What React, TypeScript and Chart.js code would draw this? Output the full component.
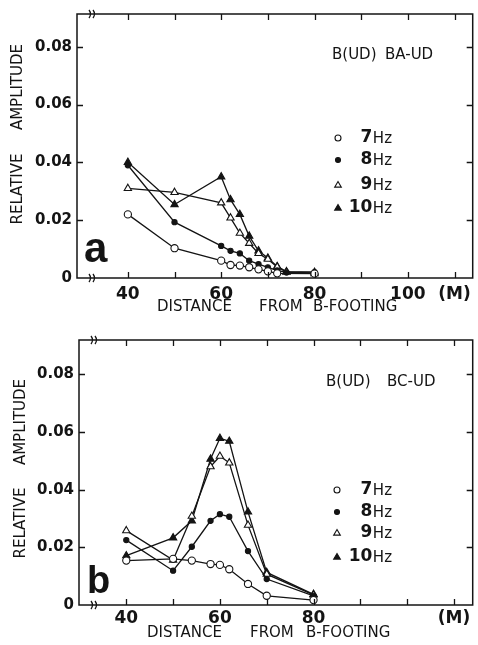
import React, { useEffect, useRef } from "react";
import { Chart, registerables } from "chart.js";
Chart.register(...registerables);

// ---------- data ----------
const X_TICKS = [40, 50, 60, 70, 80, 90, 100, 110];
const Y_TICKS = [0, 0.02, 0.04, 0.06, 0.08];
const Y_LABELS = ["0", "0.02", "0.04", "0.06", "0.08"];
const A_X_LABELS = ["40", "", "60", "", "80", "", "100", "(M)"];
const B_X_LABELS = ["40", "", "60", "", "80", "", "", "(M)"];
const SERIES_NUM = ["7", "8", "9", "10"];

// panel a : B(UD) BA-UD
const A_X_7 = [40, 50, 60, 62, 64, 66, 68, 70, 72, 80];
const A_Y_7 = [0.022, 0.0103, 0.006, 0.0045, 0.0043, 0.0037, 0.003, 0.0023, 0.0016, 0.0015];
const A_X_8 = [40, 50, 60, 62, 64, 66, 68, 70, 72, 74, 80];
const A_Y_8 = [0.039, 0.0193, 0.0111, 0.0094, 0.0085, 0.006, 0.0048, 0.0037, 0.0026, 0.0019, 0.002];
const A_X_9 = [40, 50, 60, 62, 64, 66, 68, 70, 72, 74, 80];
const A_Y_9 = [0.031, 0.0296, 0.026, 0.0208, 0.0155, 0.012, 0.0085, 0.0065, 0.0038, 0.002, 0.0015];
const A_X_10 = [40, 50, 60, 62, 64, 66, 68, 70, 72, 74, 80];
const A_Y_10 = [0.04, 0.0254, 0.035, 0.0271, 0.022, 0.0145, 0.0094, 0.0069, 0.004, 0.0022, 0.002];

// panel b : B(UD) BC-UD
const B_X_ALL = [40, 50, 54, 58, 60, 62, 66, 70, 80];
const B_Y_7 = [0.0154, 0.016, 0.0154, 0.0142, 0.0139, 0.0124, 0.0073, 0.0032, 0.0017];
const B_Y_8 = [0.0225, 0.0119, 0.0202, 0.0292, 0.0315, 0.0306, 0.0187, 0.009, 0.0032];
const B_Y_9 = [0.0258, 0.0156, 0.0308, 0.048, 0.0516, 0.0493, 0.0277, 0.0107, 0.0035];
const B_Y_10 = [0.0171, 0.0233, 0.0292, 0.0506, 0.0578, 0.0568, 0.0323, 0.0113, 0.0037];

const W = 478;
const INK = "#141414";
const MARKERS = [
  { style: "circle", fill: "#ffffff", r: 3.6 },
  { style: "circle", fill: INK, r: 2.6 },
  { style: "triangle", fill: "#ffffff", r: 4.2 },
  { style: "triangle", fill: INK, r: 4.2 },
];

type PanelCfg = {
  top: number;
  height: number;
  area: { left: number; top: number; right: number; bottom: number };
  xMin: number;
  xMax: number;
  yMax: number;
  xPad: number;
  xLabels: string[];
  series: { x: number[]; y: number[] }[];
  letter: string;
  letterFont: string;
  letterPos: [number, number];
  titleWords: [string, number][];
  titleY: number;
  legendYs: number[];
  legendMarkerX: number;
  legendRight: number;
  yTitle: { x: number; words: [string, number][] };
  xTitle: { y: number; words: [string, number][] };
};

const zip = (xs: number[], ys: number[]) => xs.map((x, i) => ({ x, y: ys[i] }));

function drawMarker(ctx: CanvasRenderingContext2D, i: number, x: number, y: number, r: number) {
  const m = MARKERS[i];
  ctx.beginPath();
  if (m.style === "circle") {
    ctx.arc(x, y, r, 0, Math.PI * 2);
  } else {
    ctx.moveTo(x, y - r);
    ctx.lineTo(x + r * 0.95, y + r * 0.6);
    ctx.lineTo(x - r * 0.95, y + r * 0.6);
    ctx.closePath();
  }
  ctx.fillStyle = m.fill;
  ctx.fill();
  ctx.lineWidth = 1.1;
  ctx.strokeStyle = INK;
  ctx.stroke();
}

function makeDecor(cfg: PanelCfg) {
  return {
    id: "decor",
    afterDraw(chart: any) {
      const ctx: CanvasRenderingContext2D = chart.ctx;
      const { left, top, right, bottom } = chart.chartArea;
      const xs = chart.scales.x;
      const ys = chart.scales.y;
      const off = cfg.top;
      ctx.save();
      ctx.strokeStyle = INK;
      ctx.lineWidth = 1.5;
      ctx.strokeRect(left, top, right - left, bottom - top);
      // inward ticks
      ctx.lineWidth = 1.3;
      ctx.beginPath();
      X_TICKS.forEach((v) => {
        const px = Math.round(xs.getPixelForValue(v)) + 0.5;
        ctx.moveTo(px, bottom);
        ctx.lineTo(px, bottom - 6);
        ctx.moveTo(px, top);
        ctx.lineTo(px, top + 6);
      });
      Y_TICKS.forEach((v) => {
        if (v === 0) return;
        const py = Math.round(ys.getPixelForValue(v)) + 0.5;
        ctx.moveTo(left, py);
        ctx.lineTo(left + 6, py);
        ctx.moveTo(right, py);
        ctx.lineTo(right - 6, py);
      });
      ctx.stroke();
      // axis breaks
      [bottom, top].forEach((yy) => {
        [left + 13, left + 17].forEach((bx) => {
          ctx.beginPath();
          ctx.moveTo(bx - 1, yy - 4);
          ctx.quadraticCurveTo(bx + 2, yy, bx - 1, yy + 4);
          ctx.stroke();
        });
      });
      ctx.fillStyle = INK;
      // big letter
      ctx.font = cfg.letterFont;
      ctx.textAlign = "left";
      ctx.textBaseline = "alphabetic";
      ctx.fillText(cfg.letter, cfg.letterPos[0], cfg.letterPos[1] - off);
      // title
      ctx.font = '15px "DejaVu Sans"';
      ctx.textBaseline = "middle";
      cfg.titleWords.forEach(([t, x]) => ctx.fillText(t, x, cfg.titleY - off));
      // legend
      cfg.legendYs.forEach((ly, i) => {
        const y = ly - off;
        drawMarker(ctx, i, cfg.legendMarkerX, y, i < 2 ? (i === 0 ? 3 : 2.5) : 3.5);
        ctx.fillStyle = INK;
        ctx.font = '15px "DejaVu Sans"';
        const hzW = ctx.measureText("Hz").width;
        ctx.textAlign = "left";
        ctx.fillText("Hz", cfg.legendRight - hzW, y + 1);
        ctx.font = 'bold 17px "DejaVu Sans"';
        ctx.textAlign = "right";
        ctx.fillText(SERIES_NUM[i], cfg.legendRight - hzW - 0.5, y);
      });
      // y title
      ctx.font = '15px "DejaVu Sans"';
      ctx.textAlign = "center";
      cfg.yTitle.words.forEach(([t, cy]) => {
        ctx.save();
        ctx.translate(cfg.yTitle.x, cy - off);
        ctx.rotate(-Math.PI / 2);
        ctx.fillText(t, 0, 0);
        ctx.restore();
      });
      // x title
      ctx.textAlign = "left";
      cfg.xTitle.words.forEach(([t, x]) => ctx.fillText(t, x, cfg.xTitle.y - off));
      ctx.restore();
    },
  };
}

function Panel({ cfg }: { cfg: PanelCfg }) {
  const ref = useRef<HTMLCanvasElement>(null);
  useEffect(() => {
    if (!ref.current) return;
    const chart = new Chart(ref.current, {
      type: "scatter",
      data: {
        datasets: cfg.series.map((s, i) => ({
          label: SERIES_NUM[i] + "Hz",
          data: zip(s.x, s.y),
          showLine: true,
          borderColor: INK,
          borderWidth: 1.3,
          pointStyle: MARKERS[i].style as any,
          pointRadius: MARKERS[i].r,
          pointBackgroundColor: MARKERS[i].fill,
          pointBorderColor: INK,
          pointBorderWidth: 1.1,
          tension: 0,
        })),
      },
      options: {
        responsive: false,
        animation: false,
        devicePixelRatio: 1,
        layout: {
          padding: { left: 0, top: cfg.area.top, right: W - cfg.area.right, bottom: 0 },
        },
        plugins: { legend: { display: false }, tooltip: { enabled: false } },
        scales: {
          x: {
            type: "linear",
            min: cfg.xMin,
            max: cfg.xMax,
            afterBuildTicks: (s: any) => {
              s.ticks = X_TICKS.map((v) => ({ value: v }));
            },
            afterFit: (s: any) => {
              s.height = cfg.height - cfg.area.bottom;
            },
            ticks: {
              autoSkip: false,
              maxRotation: 0,
              padding: cfg.xPad,
              color: INK,
              font: { family: "DejaVu Sans", weight: "bold", size: 17 },
              callback: (_v: any, i: number) => cfg.xLabels[i],
            },
            grid: { display: false, drawTicks: false },
            border: { display: false },
          },
          y: {
            type: "linear",
            min: 0,
            max: cfg.yMax,
            afterBuildTicks: (s: any) => {
              s.ticks = Y_TICKS.map((v) => ({ value: v }));
            },
            afterFit: (s: any) => {
              s.width = cfg.area.left;
            },
            ticks: {
              padding: 5,
              color: INK,
              font: { family: "DejaVu Sans", weight: "bold", size: 15 },
              callback: (_v: any, i: number) => Y_LABELS[i],
            },
            grid: { display: false, drawTicks: false },
            border: { display: false },
          },
        },
      } as any,
      plugins: [makeDecor(cfg)],
    });
    return () => chart.destroy();
  }, [cfg]);
  return (
    <div style={{ position: "absolute", left: 0, top: cfg.top, width: W, height: cfg.height }}>
      <canvas ref={ref} width={W} height={cfg.height} style={{ display: "block" }} />
    </div>
  );
}

const PANEL_A: PanelCfg = {
  top: 0,
  height: 322,
  area: { left: 77, top: 11, right: 475, bottom: 278 },
  xMin: 29.1,
  xMax: 113.9,
  yMax: 0.0913,
  xPad: 6,
  xLabels: A_X_LABELS,
  series: [
    { x: A_X_7, y: A_Y_7 },
    { x: A_X_8, y: A_Y_8 },
    { x: A_X_9, y: A_Y_9 },
    { x: A_X_10, y: A_Y_10 },
  ],
  letter: "a",
  letterFont: 'bold 42px "Liberation Sans"',
  letterPos: [84, 262],
  titleWords: [["B(UD)", 332], ["BA-UD", 385]],
  titleY: 55,
  legendYs: [138, 160, 185, 208],
  legendMarkerX: 338,
  legendRight: 392,
  yTitle: { x: 18, words: [["RELATIVE", 189], ["AMPLITUDE", 87]] },
  xTitle: { y: 307, words: [["DISTANCE", 157], ["FROM", 259], ["B-FOOTING", 313]] },
};

const PANEL_B: PanelCfg = {
  top: 322,
  height: 323,
  area: { left: 79, top: 18, right: 475, bottom: 283 },
  xMin: 29.9,
  xMax: 114,
  yMax: 0.0919,
  xPad: 3,
  xLabels: B_X_LABELS,
  series: [
    { x: B_X_ALL, y: B_Y_7 },
    { x: B_X_ALL, y: B_Y_8 },
    { x: B_X_ALL, y: B_Y_9 },
    { x: B_X_ALL, y: B_Y_10 },
  ],
  letter: "b",
  letterFont: 'bold 38px "Liberation Sans"',
  letterPos: [87, 593],
  titleWords: [["B(UD)", 326], ["BC-UD", 387]],
  titleY: 382,
  legendYs: [490, 512, 533, 557],
  legendMarkerX: 337,
  legendRight: 392,
  yTitle: { x: 21, words: [["RELATIVE", 523], ["AMPLITUDE", 422]] },
  xTitle: { y: 633, words: [["DISTANCE", 147], ["FROM", 250], ["B-FOOTING", 306]] },
};

export default function App() {
  return (
    <div style={{ position: "absolute", left: 0, top: 0, width: W, height: 645, background: "#fff" }}>
      <Panel cfg={PANEL_A} />
      <Panel cfg={PANEL_B} />
    </div>
  );
}
